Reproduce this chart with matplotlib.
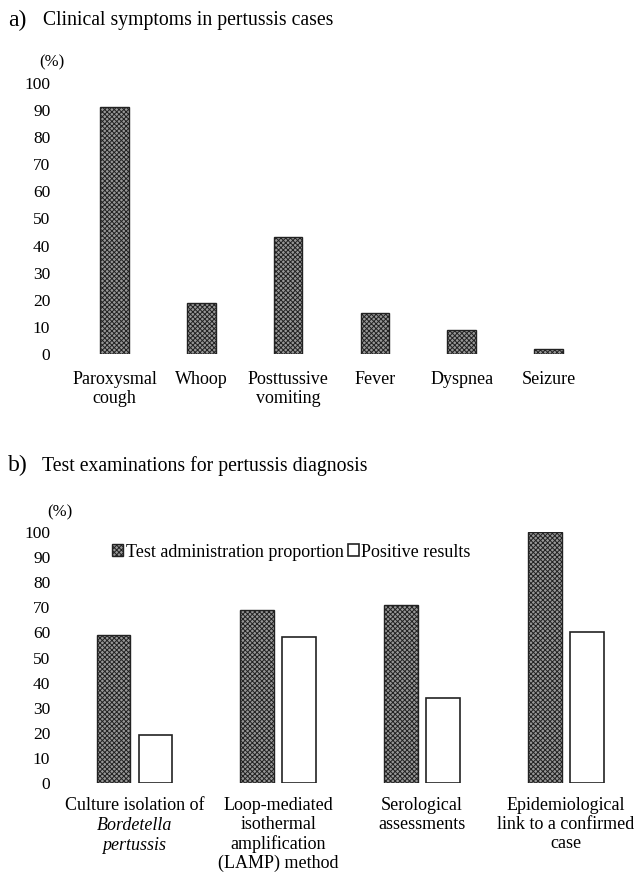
import matplotlib.pyplot as plt
from matplotlib.patches import Patch

plt.rcParams['font.family'] = ['Liberation Serif', 'DejaVu Serif']
plt.rcParams['hatch.linewidth'] = 0.7

# a) clinical symptoms
symptoms = ['Paroxysmal\ncough', 'Whoop', 'Posttussive\nvomiting', 'Fever', 'Dyspnea', 'Seizure']
symptom_pct = [91, 19, 43, 15, 9, 2]

# b) test examinations
tests = ['Culture isolation of', 'Loop-mediated\nisothermal\namplification\n(LAMP) method',
         'Serological\nassessments', 'Epidemiological\nlink to a confirmed\ncase']
administered = [59, 69, 71, 100]
positive = [19, 58, 34, 60]

yticks = list(range(0, 101, 10))

W, H = 637, 875
fig = plt.figure(figsize=(W / 100, H / 100), dpi=100)
fig.patch.set_facecolor('white')

DARK = dict(facecolor='#979797', edgecolor='#222222', hatch='xxxxxxx', linewidth=1.0)
LIGHT = dict(facecolor='white', edgecolor='#222222', linewidth=1.2)


def px_axes(left, right, top, bottom):
    return fig.add_axes([left / W, 1 - bottom / H, (right - left) / W, (bottom - top) / H])


def style_axis(ax, pct_x):
    for s in ax.spines.values():
        s.set_visible(False)
    ax.set_ylim(0, 100)
    ax.set_yticks(yticks)
    ax.tick_params(axis='y', length=0, pad=7, labelsize=12.5)
    ax.tick_params(axis='x', length=0)
    ax.set_xticks([])
    ax.text(pct_x, 1.045, '(%)', transform=ax.transAxes, fontsize=12, ha='center', va='bottom')


# ---- panel a ----
axa = px_axes(60, 610, 83, 354)
style_axis(axa, -0.015)
xa = range(len(symptoms))
axa.bar(xa, symptom_pct, width=0.33, **DARK)
axa.set_xlim(-0.628, 5.709)
for i, lab in enumerate(symptoms):
    axa.annotate(lab, xy=(i, 0), xycoords=('data', 'axes fraction'), xytext=(0, -12),
                 textcoords='offset points', ha='center', va='top', fontsize=13, linespacing=1.15)

fig.text(8 / W, 1 - 20 / H, 'a)', fontsize=17, va='center', ha='left')
fig.text(43 / W, 1 - 21 / H, 'Clinical symptoms in pertussis cases', fontsize=14.2, va='center', ha='left')

# ---- panel b ----
axb = px_axes(60, 620, 532, 783)
style_axis(axb, 0.0)
xb = list(range(len(tests)))
off = 0.146
w = 0.236
axb.bar([x - off for x in xb], administered, width=w, **DARK)
axb.bar([x + off for x in xb], positive, width=w, **LIGHT)
axb.set_xlim(-0.518, 3.376)
for i, lab in enumerate(tests):
    axb.annotate(lab, xy=(i, 0), xycoords=('data', 'axes fraction'), xytext=(0, -10),
                 textcoords='offset points', ha='center', va='top', fontsize=13, linespacing=1.15)
for k, word in enumerate(['Bordetella', 'pertussis']):
    axb.annotate(word, xy=(0, 0), xycoords=('data', 'axes fraction'),
                 xytext=(0, -10 - 14.5 * (k + 1)), textcoords='offset points',
                 ha='center', va='top', fontsize=13, style='italic')

handles = [Patch(**DARK), Patch(**LIGHT)]
axb.legend(handles, ['Test administration proportion', 'Positive results'],
           loc='center left', bbox_to_anchor=(0.08, 0.92), ncol=2, frameon=False,
           fontsize=13, handlelength=0.6, handleheight=0.6, handletextpad=0.15,
           columnspacing=0.25, borderaxespad=0)

fig.text(8 / W, 1 - 465 / H, 'b)', fontsize=17, va='center', ha='left')
fig.text(42 / W, 1 - 466 / H, 'Test examinations for pertussis diagnosis', fontsize=14.2, va='center', ha='left')

fig.savefig('out.png', dpi=100)
